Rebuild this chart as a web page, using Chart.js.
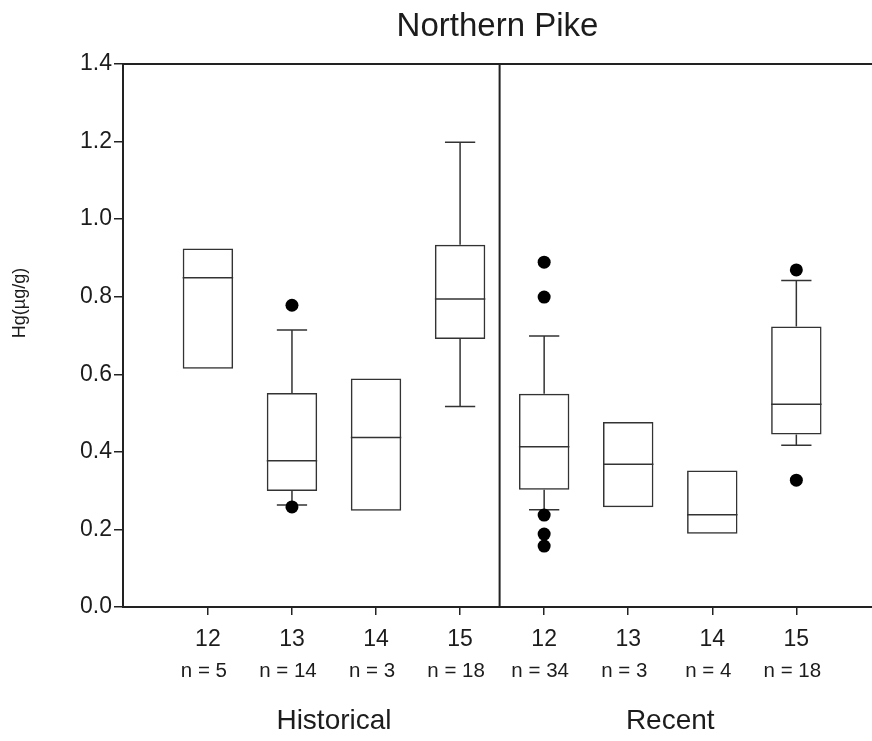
<!DOCTYPE html>
<html>
<head>
<meta charset="utf-8">
<title>Northern Pike</title>
<script src="https://cdn.jsdelivr.net/npm/chart.js@4/dist/chart.umd.min.js"></script>
<style>
  html, body { margin: 0; padding: 0; background: #fff; overflow: hidden; }
  #pikeChart { position: absolute; left: 0; top: 0; }
</style>
</head>
<body>
<canvas id="pikeChart" width="872" height="741"></canvas>
<script>
// box plot values (Hg, ug/g)
const positions = [1, 2, 3, 4, 5, 6, 7, 8];
const categories = ['12', '13', '14', '15', '12', '13', '14', '15'];
const sampleSizes = ['n = 5', 'n = 14', 'n = 3', 'n = 18', 'n = 34', 'n = 3', 'n = 4', 'n = 18'];
const groups = ['Historical', 'Recent'];
const groupCenters = [2.5, 6.5];

const q1 = [0.614, 0.299, 0.248, 0.691, 0.302, 0.257, 0.189, 0.445];
const medians = [0.849, 0.377, 0.437, 0.794, 0.413, 0.368, 0.238, 0.523];
const q3 = [0.924, 0.552, 0.589, 0.934, 0.550, 0.477, 0.352, 0.723];
const whiskerLow = [null, 0.263, null, 0.517, 0.251, null, null, 0.417];
const whiskerHigh = [null, 0.714, null, 1.198, 0.699, null, null, 0.842];

const outlierX = [2, 2, 5, 5, 5, 5, 5, 8, 8];
const outlierY = [0.778, 0.258, 0.889, 0.799, 0.237, 0.188, 0.157, 0.869, 0.327];

const yTicks = [0, 0.2, 0.4, 0.6, 0.8, 1.0, 1.2, 1.4];
const dividerAt = 4.47;

const FONT = '"Liberation Sans", Arial, Helvetica, sans-serif';
const INK = '#1c1c1c';
const LINE = '#333';

const boxExtras = {
  id: 'boxExtras',
  beforeDatasetsDraw(chart) {
    const { ctx, scales: { x, y } } = chart;
    const half = x.getPixelForValue(1.18) - x.getPixelForValue(1);
    const boxHalf = x.getPixelForValue(1.3) - x.getPixelForValue(1);
    ctx.save();
    ctx.strokeStyle = LINE;
    ctx.lineWidth = 1.5;
    positions.forEach((p, i) => {
      const cx = x.getPixelForValue(p);
      // median
      ctx.beginPath();
      ctx.moveTo(cx - boxHalf, y.getPixelForValue(medians[i]));
      ctx.lineTo(cx + boxHalf, y.getPixelForValue(medians[i]));
      ctx.stroke();
      // whiskers
      if (whiskerHigh[i] != null) {
        ctx.beginPath();
        ctx.moveTo(cx, y.getPixelForValue(q3[i]));
        ctx.lineTo(cx, y.getPixelForValue(whiskerHigh[i]));
        ctx.moveTo(cx - half, y.getPixelForValue(whiskerHigh[i]));
        ctx.lineTo(cx + half, y.getPixelForValue(whiskerHigh[i]));
        ctx.stroke();
      }
      if (whiskerLow[i] != null) {
        ctx.beginPath();
        ctx.moveTo(cx, y.getPixelForValue(q1[i]));
        ctx.lineTo(cx, y.getPixelForValue(whiskerLow[i]));
        ctx.moveTo(cx - half, y.getPixelForValue(whiskerLow[i]));
        ctx.lineTo(cx + half, y.getPixelForValue(whiskerLow[i]));
        ctx.stroke();
      }
    });
    ctx.restore();
  },
  afterDraw(chart) {
    const { ctx, chartArea: area, scales: { x } } = chart;
    ctx.save();
    // top frame line and the Historical / Recent divider
    ctx.strokeStyle = '#222';
    ctx.lineWidth = 2;
    ctx.beginPath();
    ctx.moveTo(area.left, area.top);
    ctx.lineTo(area.right, area.top);
    const dx = x.getPixelForValue(dividerAt);
    ctx.moveTo(dx, area.top);
    ctx.lineTo(dx, area.bottom);
    ctx.stroke();

    ctx.fillStyle = INK;
    ctx.textAlign = 'center';
    ctx.textBaseline = 'alphabetic';

    ctx.font = '33px ' + FONT;
    ctx.fillText('Northern Pike', (area.left + area.right) / 2, 36);

    ctx.font = '20.5px ' + FONT;
    positions.forEach((p, i) => {
      ctx.fillText(sampleSizes[i], x.getPixelForValue(p) - 4, 677);
    });

    ctx.font = '28px ' + FONT;
    groups.forEach((g, i) => {
      ctx.fillText(g, x.getPixelForValue(groupCenters[i]), 729);
    });

    ctx.translate(20, 303);
    ctx.rotate(-Math.PI / 2);
    ctx.textBaseline = 'middle';
    ctx.font = '18px ' + FONT;
    ctx.fillText('Hg(\u00b5g/g)', 0, 0);
    ctx.restore();
  }
};

new Chart(document.getElementById('pikeChart'), {
  type: 'bar',
  data: {
    datasets: [
      {
        label: 'Box',
        data: positions.map((p, i) => ({ x: p, y: [q1[i], q3[i]] })),
        backgroundColor: 'rgba(0,0,0,0)',
        borderColor: LINE,
        borderWidth: 1.5,
        borderSkipped: false,
        barPercentage: 0.6,
        categoryPercentage: 1.0
      },
      {
        type: 'scatter',
        label: 'Outliers',
        data: outlierX.map((p, i) => ({ x: p, y: outlierY[i] })),
        backgroundColor: '#000',
        borderWidth: 0,
        pointRadius: 6.5,
        clip: false
      }
    ]
  },
  options: {
    responsive: false,
    animation: false,
    layout: { autoPadding: false, padding: { top: 64, left: 0, right: 0, bottom: 0 } },
    plugins: {
      legend: { display: false },
      tooltip: { enabled: false }
    },
    scales: {
      x: {
        type: 'linear',
        min: -0.01,
        max: 8.9,
        offset: false,
        afterBuildTicks: s => { s.ticks = positions.map(v => ({ value: v })); },
        afterFit: s => { s.height = 134; s.paddingLeft = 0; s.paddingRight = 0; },
        grid: { offset: false, drawOnChartArea: false, drawTicks: true, tickLength: 8, color: '#222', lineWidth: 1.5 },
        border: { display: true, color: '#222', width: 2 },
        ticks: {
          color: INK,
          font: { family: FONT, size: 23 },
          padding: 11,
          maxRotation: 0,
          callback: v => categories[positions.indexOf(v)] ?? ''
        }
      },
      y: {
        min: 0,
        max: 1.4,
        afterBuildTicks: s => { s.ticks = yTicks.map(v => ({ value: v })); },
        afterFit: s => { s.width = 123; s.paddingTop = 0; s.paddingBottom = 0; },
        grid: { drawOnChartArea: false, drawTicks: true, tickLength: 9, color: '#222', lineWidth: 1.5 },
        border: { display: true, color: '#222', width: 2 },
        ticks: {
          color: INK,
          font: { family: FONT, size: 23 },
          padding: 2,
          callback: v => v.toFixed(1)
        }
      }
    }
  },
  plugins: [boxExtras]
});
</script>
</body>
</html>
